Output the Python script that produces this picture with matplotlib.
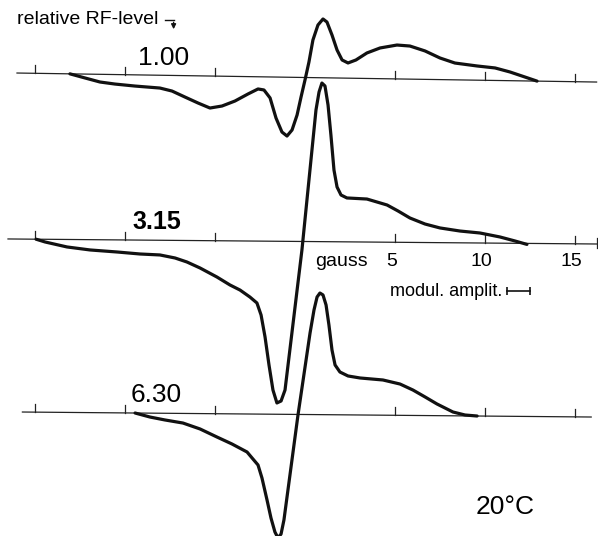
import numpy as np
import matplotlib
matplotlib.use('Agg')
import matplotlib.pyplot as plt

plt.rcParams['font.family'] = ['Liberation Sans', 'DejaVu Sans']

# ESR first-derivative spectra at three relative RF levels (field in gauss, amplitude in arb. units)
levels = ['1.00', '3.15', '6.30']

g_100 = [-13.06, -12.22, -11.39, -10.56, -9.44, -8.06, -7.39, -6.67, -5.94, -5.28, -4.61, -3.89,
         -3.17, -2.61, -2.28, -1.94, -1.61, -1.28, -1.0, -0.72, -0.44, -0.22, 0.0, 0.22, 0.44,
         0.72, 1.0, 1.22, 1.5, 1.78, 2.06, 2.39, 2.83, 3.44, 4.17, 5.11, 5.83, 6.67, 7.5, 8.33,
         9.56, 10.56, 11.39, 12.22, 12.89]
a_100 = [0, -3.9, -7.7, -9.5, -11.2, -12.8, -15.6, -21.4, -27.2, -32.0, -29.8, -24.6,
         -17.4, -12.2, -13.1, -21.0, -41.0, -54.9, -58.8, -52.7, -37.6, -19.6, -2.5, 15.6, 37.6,
         52.7, 58.8, 55.8, 42.9, 28.0, 18.1, 15.2, 18.3, 25.5, 30.7, 33.9, 33.1, 28.4, 21.6, 16.8,
         14.2, 12.5, 8.7, 3.9, 0]

g_315 = [-14.94, -14.44, -13.22, -11.94, -10.44, -9.17, -8.06, -7.22, -6.56, -5.83, -4.89, -4.17,
         -3.61, -3.06, -2.67, -2.44, -2.22, -2.0, -1.78, -1.56, -1.33, -1.11, -0.17, 0.61, 0.78,
         0.94, 1.11, 1.28, 1.44, 1.61, 1.78, 2.0, 2.33, 3.44, 4.56, 5.17, 5.83, 6.67, 7.5, 8.61,
         9.72, 10.83, 11.67, 12.33]
a_315 = [0, -2.7, -7.5, -10.3, -12.1, -13.9, -14.7, -17.6, -21.5, -27.4, -36.3, -44.1,
         -49.1, -56.0, -61.9, -73.9, -95.8, -123.8, -148.8, -161.7, -159.7, -148.7, -8.5, 131.6, 149.6,
         158.6, 155.7, 136.7, 106.7, 71.7, 54.8, 46.8, 43.9, 43.0, 37.2, 31.3, 24.4, 18.5, 14.7, 11.8,
         10.0, 6.2, 2.3, -1.0]

g_630 = [-9.44, -8.61, -7.78, -6.78, -5.83, -4.89, -4.06, -3.22, -2.89, -2.61, -2.39, -2.11,
         -1.89, -1.67, -1.5, -1.33, -1.17, -0.39, 0.28, 0.5, 0.67, 0.83, 1.0, 1.17, 1.33, 1.5,
         1.67, 1.94, 2.39, 3.06, 4.33, 5.28, 6.0, 6.67, 7.33, 8.22, 8.89, 9.56]
a_630 = [0, -3.9, -6.7, -9.6, -15.4, -23.3, -30.1, -38.0, -45.0, -50.9, -63.9, -85.8,
         -103.8, -117.8, -123.7, -119.7, -105.7, -0.6, 81.5, 104.6, 117.6, 121.6, 119.7, 109.7, 89.7, 64.7,
         49.8, 42.8, 38.9, 37.0, 35.2, 31.3, 25.4, 18.6, 11.7, 3.8, 0.9, 0]

tick_vals = [-15, -10, -5, 5, 10, 15]
tick_labels = ['5', '10', '15']

# layout: baseline position (pixels from top at 0 gauss) and tilt per gauss
offsets = [77.5, 241.5, 414.5]
tilts = [0.28, 0.154, 0.158]
spans = [(-16.0, 16.2), (-16.5, 16.3), (-15.7, 15.9)]

fig = plt.figure(figsize=(5.98, 5.36), dpi=100)
ax = fig.add_axes([0, 0, 1, 1])
ax.set_xlim(-305 / 18, 293 / 18)
ax.set_ylim(-536, 0)
ax.axis('off')

def base(g, i):
    return -(offsets[i] + tilts[i] * np.asarray(g))

traces = [(g_100, a_100), (g_315, a_315), (g_630, a_630)]
for i, (g, a) in enumerate(traces):
    x0, x1 = spans[i]
    ax.plot([x0, x1], base([x0, x1], i), color='#222222', lw=0.9)
    for t in tick_vals:
        yb = base(t, i)
        ax.plot([t, t], [yb, yb + 8], color='#222222', lw=0.9)
    ax.plot(g, base(g, i) + np.array(a), color='#111111', lw=2.3,
            solid_joinstyle='round', solid_capstyle='round')

# small end hook on middle axis
ax.plot([16.2, 16.2], [base(16.2, 1) + 6, base(16.2, 1) - 4], color='#222222', lw=0.9)

# level labels
ax.text(-9.3, -58, levels[0], fontsize=19, ha='left', va='center')
ax.text(-9.6, -222, levels[1], fontsize=18, ha='left', va='center', fontweight='bold')
ax.text(-9.7, -395, levels[2], fontsize=19, ha='left', va='center')

ax.text(-16.0, -20, 'relative RF-level', fontsize=14, ha='left', va='center')
ax.plot([-7.8, -7.3], [-20, -20], color='#111111', lw=1.0)
ax.annotate('', xy=(-7.3, -32), xytext=(-7.3, -19.5),
            arrowprops=dict(arrowstyle='-|>', color='#111111', lw=1.0, mutation_scale=7))

# field scale labels
ax.text(2.05, -261, 'gauss', fontsize=14, ha='center', va='center')
for t, lab in zip([5, 10, 15], tick_labels):
    ax.text(t - 0.2, -261, lab, fontsize=14, ha='center', va='center')
ax.text(4.7, -291, 'modul. amplit.', fontsize=13, ha='left', va='center')
ax.plot([11.2, 12.5], [-291, -291], color='#111111', lw=1.2, marker='|', ms=6, mew=1.2)

ax.text(9.5, -507, '20°C', fontsize=19, ha='left', va='center')

fig.savefig('out.png', dpi=100, facecolor='white')
